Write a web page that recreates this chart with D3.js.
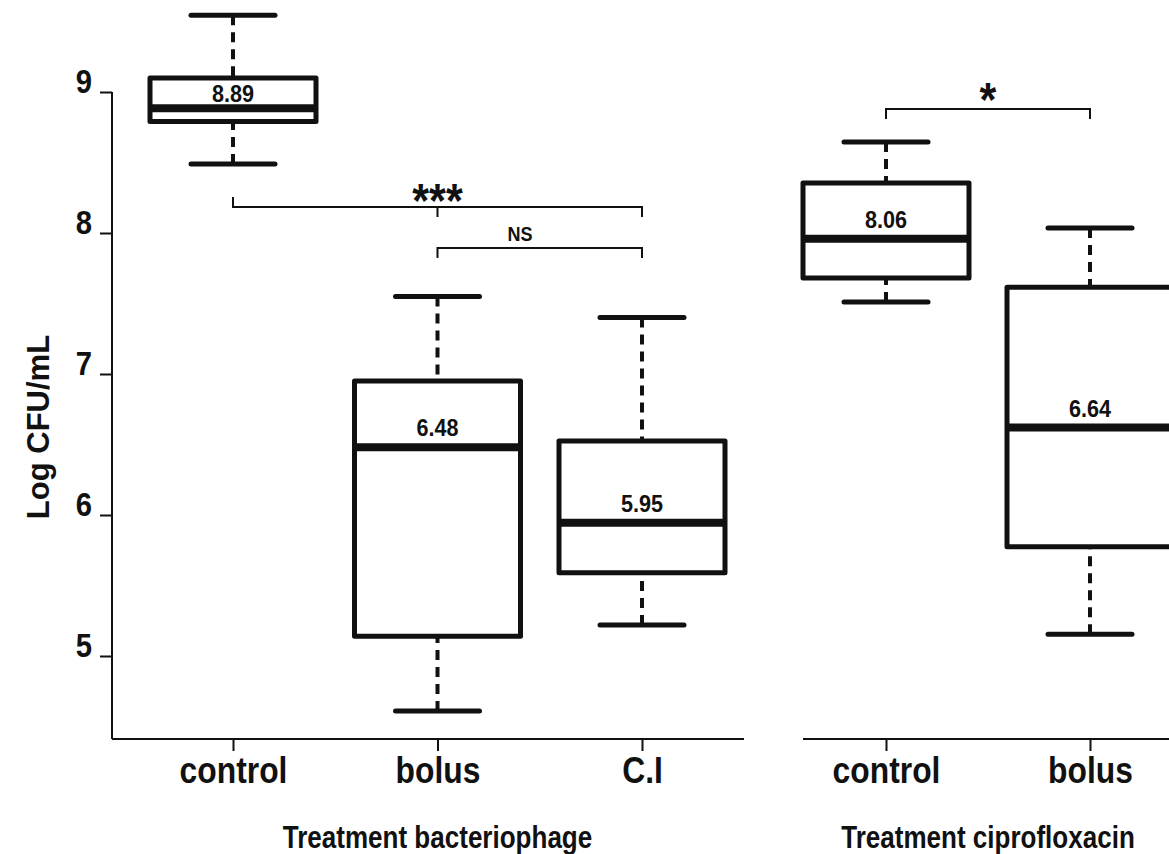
<!DOCTYPE html>
<html>
<head>
<meta charset="utf-8">
<script src="https://cdn.jsdelivr.net/npm/d3@7"></script>
<style>
  body { margin: 0; background: #fff; }
  svg { display: block; }
  text { fill: #111; font-family: "Liberation Sans", Arial, sans-serif; font-weight: bold; }
</style>
</head>
<body>
<svg id="chart"></svg>
<script>
var width = 1169,
    height = 854;

// Bacteriophage panel
var phageGroups = ['control', 'bolus', 'C.I'];
var phageLow    = [8.49, 4.61, 5.22];
var phageQ1     = [8.79, 5.14, 5.59];
var phageMedian = [8.885, 6.48, 5.945];
var phageQ3     = [9.10, 6.95, 6.525];
var phageHigh   = [9.545, 7.55, 7.40];
var phageLabels = ['8.89', '6.48', '5.95'];

// Ciprofloxacin panel
var ciproGroups = ['control', 'bolus'];
var ciproLow    = [7.51, 5.155];
var ciproQ1     = [7.68, 5.775];
var ciproMedian = [7.96, 6.62];
var ciproQ3     = [8.355, 7.615];
var ciproHigh   = [8.645, 8.035];
var ciproLabels = ['8.06', '6.64'];

var yTicks = [5, 6, 7, 8, 9];
var yTitle = 'Log CFU/mL';
var phageTitle = 'Treatment bacteriophage';
var ciproTitle = 'Treatment ciprofloxacin';

var ink = '#111';
var axisY = 739,
    boxW = 166,
    capW = 84;

var svg = d3.select('#chart')
    .attr('width', width)
    .attr('height', height);

var y = d3.scaleLinear()
    .domain([5, 9])
    .range([656, 92]);

var xPhage = d3.scalePoint()
    .domain(phageGroups)
    .range([233, 642]);

var xCipro = d3.scalePoint()
    .domain(ciproGroups)
    .range([886, 1090]);

// no narrow font installed, so squeeze the bold sans horizontally
function squeeze(sel, x, yy, size, sx) {
    sel.attr('x', null).attr('y', null).attr('dy', null)
        .attr('transform', 'translate(' + x + ',' + yy + ') scale(' + sx + ',1)')
        .style('font-size', size + 'px');
}

// y axis
var yAxis = svg.append('g')
    .attr('transform', 'translate(112,0)')
    .call(d3.axisLeft(y).tickValues(yTicks).tickFormat(d3.format('d')).tickSize(12).tickSizeOuter(0));
yAxis.select('.domain').remove();
yAxis.selectAll('line').attr('stroke', ink).attr('stroke-width', 2);
yAxis.selectAll('text').each(function () {
    squeeze(d3.select(this).attr('fill', ink), -20, 0, 34, 0.86);
});

svg.append('line')
    .attr('x1', 112).attr('x2', 112)
    .attr('y1', y(9)).attr('y2', axisY)
    .attr('stroke', ink).attr('stroke-width', 2);

svg.append('text')
    .attr('transform', 'translate(49,427) rotate(-90)')
    .attr('text-anchor', 'middle')
    .style('font-size', '31px')
    .text(yTitle);

function drawPanel(x, groups, low, q1, med, q3, high, labels, x0, x1, title, labelOffsets) {
    var axis = svg.append('g')
        .attr('transform', 'translate(0,' + axisY + ')')
        .call(d3.axisBottom(x).tickSize(12).tickSizeOuter(0));
    axis.select('.domain').remove();
    axis.selectAll('line').attr('stroke', ink).attr('stroke-width', 2);
    axis.selectAll('text').each(function () {
        squeeze(d3.select(this).attr('fill', ink), 0, 44, 37, 0.86);
    });

    svg.append('line')
        .attr('x1', x0).attr('x2', x1)
        .attr('y1', axisY).attr('y2', axisY)
        .attr('stroke', ink).attr('stroke-width', 2);

    var g = svg.append('g');
    groups.forEach(function (name, i) {
        var cx = x(name);
        // whiskers
        [[high[i], q3[i]], [low[i], q1[i]]].forEach(function (w) {
            g.append('line')
                .attr('x1', cx).attr('x2', cx)
                .attr('y1', y(w[0])).attr('y2', y(w[1]))
                .attr('stroke', ink).attr('stroke-width', 4)
                .attr('stroke-dasharray', '10,7');
            g.append('line')
                .attr('x1', cx - capW / 2).attr('x2', cx + capW / 2)
                .attr('y1', y(w[0])).attr('y2', y(w[0]))
                .attr('stroke', ink).attr('stroke-width', 5)
                .attr('stroke-linecap', 'round');
        });
        // box
        g.append('rect')
            .attr('x', cx - boxW / 2)
            .attr('y', y(q3[i]))
            .attr('width', boxW)
            .attr('height', y(q1[i]) - y(q3[i]))
            .attr('fill', '#fff')
            .attr('stroke', ink).attr('stroke-width', 5)
            .attr('stroke-linejoin', 'round');
        g.append('line')
            .attr('x1', cx - boxW / 2).attr('x2', cx + boxW / 2)
            .attr('y1', y(med[i])).attr('y2', y(med[i]))
            .attr('stroke', ink).attr('stroke-width', 8);
        g.append('text')
            .attr('text-anchor', 'middle')
            .text(labels[i])
            .call(squeeze, cx, y(med[i]) - labelOffsets[i], 24, 0.9);
    });

    svg.append('text')
        .attr('text-anchor', 'middle')
        .text(title)
        .call(squeeze, (x.range()[0] + x.range()[1]) / 2, 848, 31, 0.84);
}

drawPanel(xPhage, phageGroups, phageLow, phageQ1, phageMedian, phageQ3, phageHigh,
    phageLabels, 112, 744, phageTitle, [6, 11, 11]);
drawPanel(xCipro, ciproGroups, ciproLow, ciproQ1, ciproMedian, ciproQ3, ciproHigh,
    ciproLabels, 803, 1169, ciproTitle, [11, 11]);

// significance brackets
function bracket(path, label, lx, ly, size, sx) {
    svg.append('path')
        .attr('d', path)
        .attr('fill', 'none')
        .attr('stroke', ink).attr('stroke-width', 2);
    svg.append('text')
        .attr('text-anchor', 'middle')
        .text(label)
        .call(squeeze, lx, ly, size, sx);
}

var a = xPhage('control'), b = xPhage('bolus'), c = xPhage('C.I');
bracket('M' + a + ',197V207H' + c + 'V217M' + b + ',207V217', '***', b, 217, 48, 0.9);
bracket('M' + b + ',258V248H' + c + 'V258', 'NS', 520, 241, 21, 0.86);
var d = xCipro('control'), e = xCipro('bolus');
bracket('M' + d + ',119V109H' + e + 'V119', '*', (d + e) / 2, 116, 48, 0.9);
</script>
</body>
</html>
